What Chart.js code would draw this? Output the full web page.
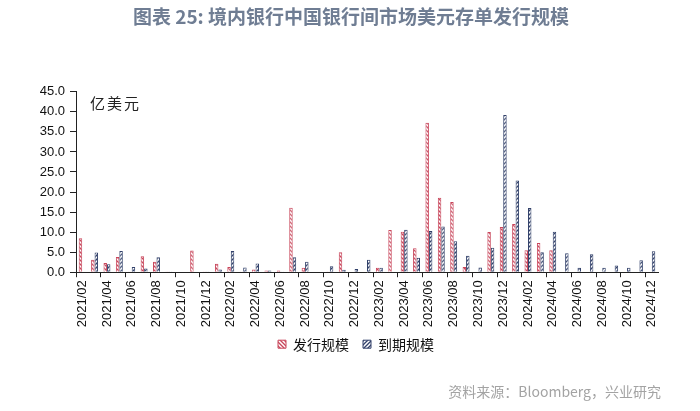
<!DOCTYPE html>
<html>
<head>
<meta charset="utf-8">
<script src="https://cdn.jsdelivr.net/npm/chart.js@4.4.1/dist/chart.umd.min.js"></script>
<style>
    html, body { margin: 0; padding: 0; background: #fff; }
    #wrap { width: 700px; height: 411px; }
</style>
</head>
<body>
<div id="wrap"><canvas id="issueChart" width="700" height="411"></canvas></div>
<script>
// monthly categories 2021/02 - 2024/12
const months = [
    '2021/02', '2021/03', '2021/04', '2021/05', '2021/06', '2021/07', '2021/08', '2021/09',
    '2021/10', '2021/11', '2021/12', '2022/01', '2022/02', '2022/03', '2022/04', '2022/05',
    '2022/06', '2022/07', '2022/08', '2022/09', '2022/10', '2022/11', '2022/12', '2023/01',
    '2023/02', '2023/03', '2023/04', '2023/05', '2023/06', '2023/07', '2023/08', '2023/09',
    '2023/10', '2023/11', '2023/12', '2024/01', '2024/02', '2024/03', '2024/04', '2024/05',
    '2024/06', '2024/07', '2024/08', '2024/09', '2024/10', '2024/11', '2024/12'
];

// 发行规模 (亿美元)
const issued = [
    8.5, 3.1, 2.3, 3.8, 0.2, 4.0, 2.6, 0.2,
    0, 5.4, 0.2, 2.1, 1.3, 0.2, 0.7, 0.4,
    0.4, 16.1, 1.1, 0, 0.2, 5.0, 0, 0,
    1.1, 10.5, 10.1, 6.0, 37.3, 18.6, 17.5, 1.3,
    0, 10.0, 11.3, 12.0, 5.5, 7.3, 5.5, 0,
    0, 0, 0, 0, 0, 0, 0
];

// 到期规模 (亿美元)
const matured = [
    0, 4.9, 2.0, 5.3, 1.3, 0.9, 3.7, 0.2,
    0, 0, 0.2, 0.7, 5.3, 1.2, 2.2, 0.4,
    0.2, 3.7, 2.6, 0, 1.5, 0.6, 0.8, 3.1,
    1.1, 0, 10.6, 3.6, 10.3, 11.4, 7.7, 4.1,
    1.2, 6.1, 39.2, 22.9, 16.0, 5.0, 10.1, 4.7,
    1.1, 4.5, 1.1, 1.7, 1.1, 3.0, 5.2
];

const yTicks = [0, 5, 10, 15, 20, 25, 30, 35, 40, 45];

const RED = '#c8465b';
const NAVY = '#32416a';
const SOURCE = '资料来源：Bloomberg，兴业研究';

// small diagonal hatch, like the excel pattern fill
function makeHatch(color, forward) {
    const c = document.createElement('canvas');
    c.width = 4;
    c.height = 4;
    const g = c.getContext('2d');
    g.fillStyle = '#ffffff';
    g.fillRect(0, 0, 4, 4);
    g.strokeStyle = color;
    g.lineWidth = 1.3;
    g.beginPath();
    if (forward) {
        g.moveTo(-1, 5); g.lineTo(5, -1);
        g.moveTo(-1, 1); g.lineTo(1, -1);
        g.moveTo(3, 5); g.lineTo(5, 3);
    } else {
        g.moveTo(-1, -1); g.lineTo(5, 5);
        g.moveTo(3, -1); g.lineTo(5, 1);
        g.moveTo(-1, 3); g.lineTo(1, 5);
    }
    g.stroke();
    return g.createPattern(c, 'repeat');
}

const ctx = document.getElementById('issueChart').getContext('2d');
const redHatch = makeHatch(RED, false);
const navyHatch = makeHatch(NAVY, true);

// "亿美元" unit note inside the plot
const unitLabel = {
    id: 'unitLabel',
    afterDraw(chart) {
        const { ctx, chartArea, scales } = chart;
        ctx.save();
        ctx.font = '15px "Noto Sans CJK SC"';
        ctx.fillStyle = '#222';
        ctx.letterSpacing = '2px';
        ctx.textBaseline = 'middle';
        ctx.fillText('亿美元', chartArea.left + 14, scales.y.getPixelForValue(45) + 11);
        ctx.restore();
    }
};

// title / legend / source are not centred on the plot in the original, nudge them
function moveBox(box, dx, dy) {
    box.left += dx;
    box.right += dx;
    box.top += dy;
    box.bottom += dy;
}

const boxShift = {
    id: 'boxShift',
    afterLayout(chart) {
        chart.boxes.forEach((box) => {
            if (box === chart.legend) {
                moveBox(box, 27, -7);
            } else if (box === chart.titleBlock) {
                moveBox(box, 22, 0);
            } else if (box.options && box.options.text === SOURCE) {
                moveBox(box, 3, 0);
            }
        });
    }
};

new Chart(ctx, {
    type: 'bar',
    data: {
        labels: months,
        datasets: [
            {
                label: '发行规模',
                data: issued,
                backgroundColor: redHatch,
                borderColor: RED,
                borderWidth: 1,
                borderSkipped: 'start',
                categoryPercentage: 0.56,
                barPercentage: 1.0
            },
            {
                label: '到期规模',
                data: matured,
                backgroundColor: navyHatch,
                borderColor: NAVY,
                borderWidth: 1,
                borderSkipped: 'start',
                categoryPercentage: 0.56,
                barPercentage: 1.0
            }
        ]
    },
    options: {
        responsive: false,
        animation: false,
        devicePixelRatio: 1,
        layout: {
            padding: { left: 0, right: 42, top: 4, bottom: 0 }
        },
        plugins: {
            title: {
                display: true,
                text: '图表 25: 境内银行中国银行间市场美元存单发行规模',
                color: '#6f7d93',
                font: { family: '"Noto Sans CJK SC"', size: 19, weight: 'bold' },
                padding: { top: 1, bottom: 64 }
            },
            subtitle: {
                display: true,
                position: 'bottom',
                align: 'end',
                text: SOURCE,
                color: '#a3a3a3',
                font: { family: '"Noto Sans CJK SC"', size: 14 },
                padding: { top: 15, bottom: 11 }
            },
            legend: {
                position: 'bottom',
                labels: {
                    boxWidth: 8,
                    boxHeight: 8,
                    padding: 14,
                    color: '#111',
                    font: { family: '"Noto Sans CJK SC"', size: 14 }
                }
            },
            tooltip: { enabled: false }
        },
        scales: {
            x: {
                offset: true,
                grid: {
                    offset: true,
                    drawOnChartArea: false,
                    drawTicks: true,
                    tickLength: 5,
                    color: (c) => (c.index % 2 === 0 ? '#222' : 'rgba(0,0,0,0)')
                },
                border: { display: true, color: '#222' },
                ticks: {
                    autoSkip: false,
                    maxRotation: 90,
                    minRotation: 90,
                    padding: 3,
                    color: '#111',
                    font: { family: '"Liberation Sans", Arial', size: 13 },
                    callback: (v, i) => (i % 2 === 0 ? months[i] : '')
                }
            },
            y: {
                min: 0,
                max: 45,
                afterBuildTicks: (scale) => {
                    scale.ticks = yTicks.map((v) => ({ value: v }));
                },
                grid: {
                    drawOnChartArea: false,
                    tickLength: 6,
                    color: '#222'
                },
                border: { display: true, color: '#222' },
                ticks: {
                    padding: 5,
                    color: '#111',
                    font: { family: '"Liberation Sans", Arial', size: 13 },
                    callback: (v) => Number(v).toFixed(1)
                },
                afterFit: (scale) => { scale.width = 76; }
            }
        }
    },
    plugins: [unitLabel, boxShift]
});
</script>
</body>
</html>
